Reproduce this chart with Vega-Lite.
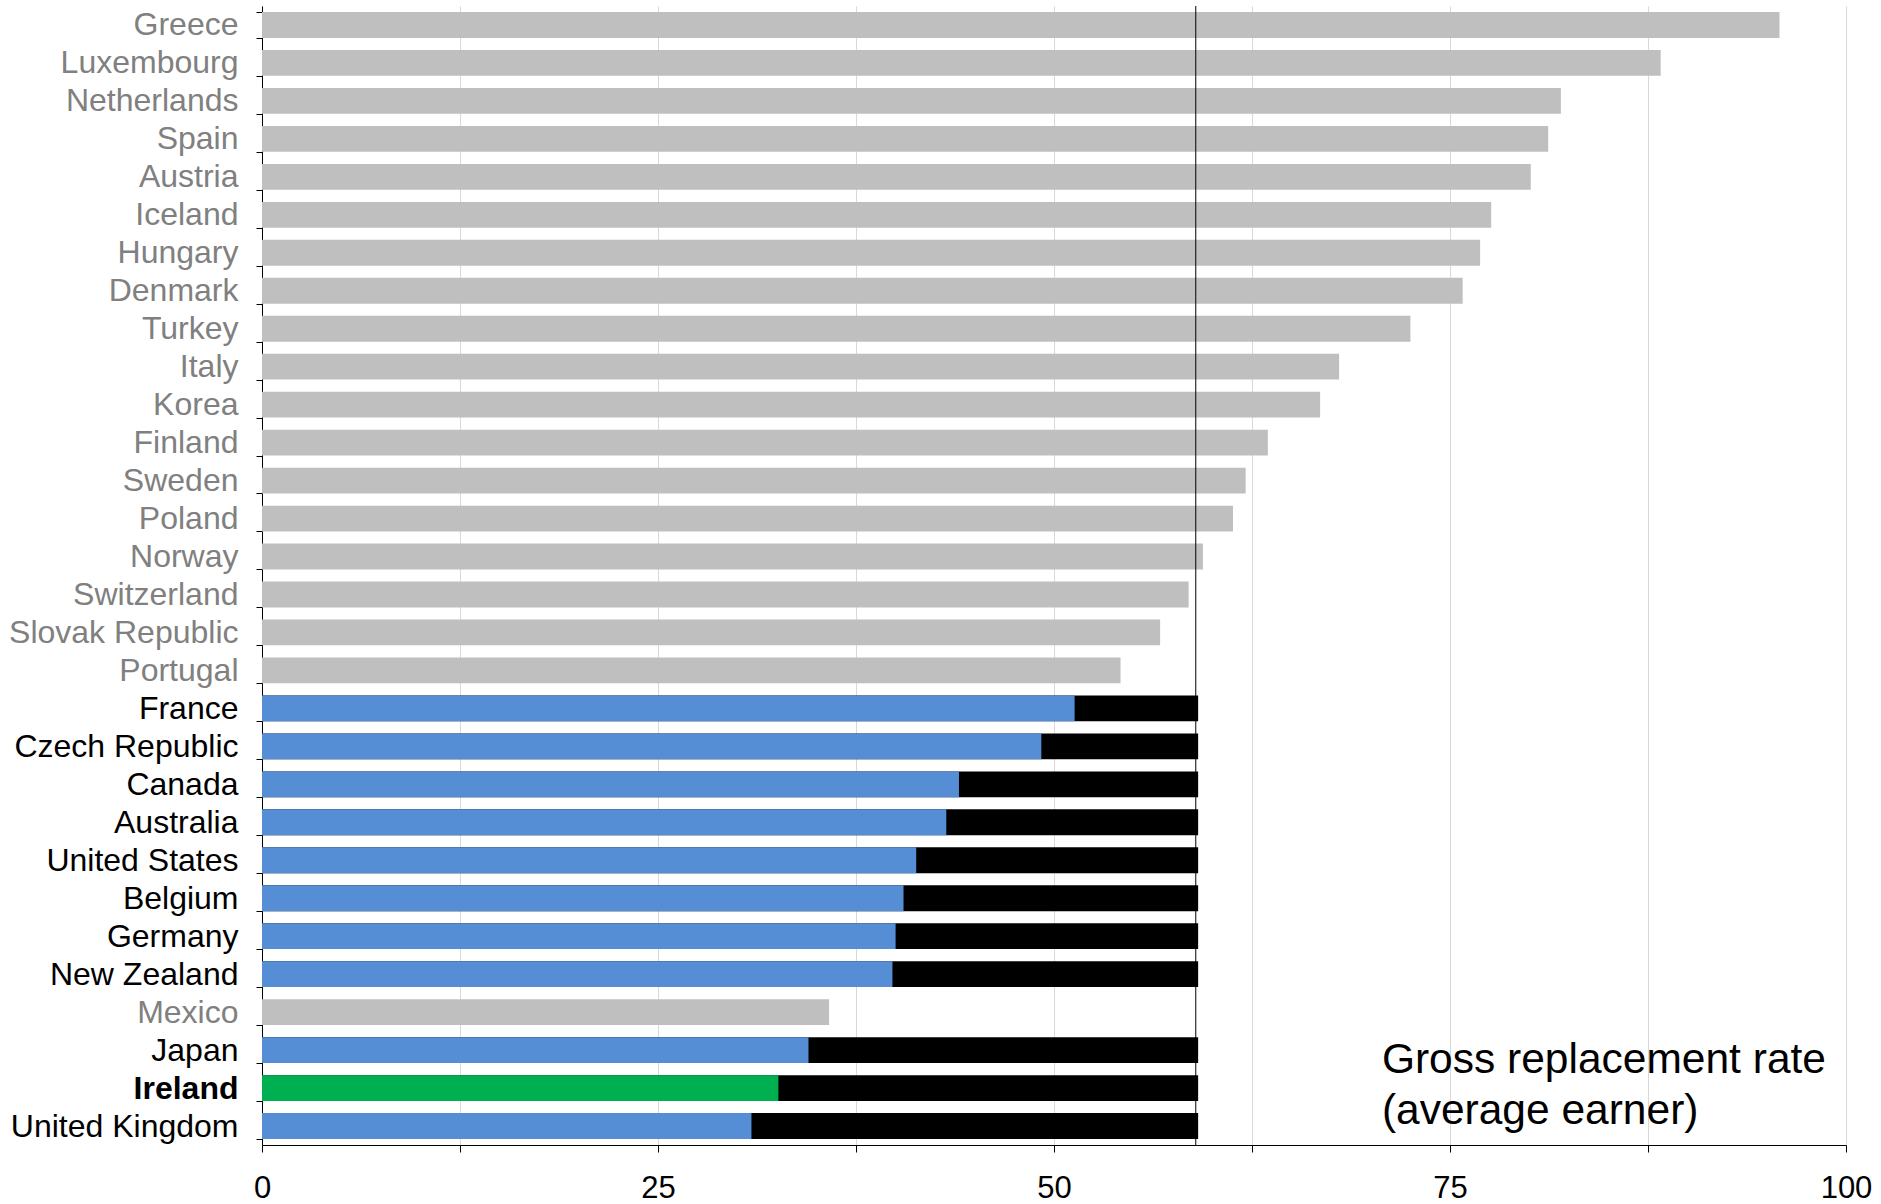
{
  "$schema": "https://vega.github.io/schema/vega-lite/v6.json",
  "autosize": "none",
  "width": 1584,
  "height": 1139,
  "padding": {"left": 262, "top": 6, "right": 35, "bottom": 59},
  "background": "white",
  "config": {"view": {"stroke": null}, "font": "Liberation Sans"},
  "data": {
    "values": [
      {"country": "Greece", "value": 95.8, "group": "grey"},
      {"country": "Luxembourg", "value": 88.3, "group": "grey"},
      {"country": "Netherlands", "value": 82.0, "group": "grey"},
      {"country": "Spain", "value": 81.2, "group": "grey"},
      {"country": "Austria", "value": 80.1, "group": "grey"},
      {"country": "Iceland", "value": 77.6, "group": "grey"},
      {"country": "Hungary", "value": 76.9, "group": "grey"},
      {"country": "Denmark", "value": 75.8, "group": "grey"},
      {"country": "Turkey", "value": 72.5, "group": "grey"},
      {"country": "Italy", "value": 68.0, "group": "grey"},
      {"country": "Korea", "value": 66.8, "group": "grey"},
      {"country": "Finland", "value": 63.5, "group": "grey"},
      {"country": "Sweden", "value": 62.1, "group": "grey"},
      {"country": "Poland", "value": 61.3, "group": "grey"},
      {"country": "Norway", "value": 59.4, "group": "grey"},
      {"country": "Switzerland", "value": 58.5, "group": "grey"},
      {"country": "Slovak Republic", "value": 56.7, "group": "grey"},
      {"country": "Portugal", "value": 54.2, "group": "grey"},
      {"country": "France", "value": 51.3, "total": 59.1, "group": "blue"},
      {"country": "Czech Republic", "value": 49.2, "total": 59.1, "group": "blue"},
      {"country": "Canada", "value": 44.0, "total": 59.1, "group": "blue"},
      {"country": "Australia", "value": 43.2, "total": 59.1, "group": "blue"},
      {"country": "United States", "value": 41.3, "total": 59.1, "group": "blue"},
      {"country": "Belgium", "value": 40.5, "total": 59.1, "group": "blue"},
      {"country": "Germany", "value": 40.0, "total": 59.1, "group": "blue"},
      {"country": "New Zealand", "value": 39.8, "total": 59.1, "group": "blue"},
      {"country": "Mexico", "value": 35.8, "group": "grey"},
      {"country": "Japan", "value": 34.5, "total": 59.1, "group": "blue"},
      {"country": "Ireland", "value": 32.6, "total": 59.1, "group": "green"},
      {"country": "United Kingdom", "value": 30.9, "total": 59.1, "group": "blue"}
    ]
  },
  "encoding": {
    "y": {
      "field": "country",
      "type": "nominal",
      "sort": null,
      "scale": {
        "domain": ["Greece", "Luxembourg", "Netherlands", "Spain", "Austria", "Iceland", "Hungary", "Denmark", "Turkey", "Italy", "Korea", "Finland", "Sweden", "Poland", "Norway", "Switzerland", "Slovak Republic", "Portugal", "France", "Czech Republic", "Canada", "Australia", "United States", "Belgium", "Germany", "New Zealand", "Mexico", "Japan", "Ireland", "United Kingdom"],
        "paddingInner": 0.32,
        "paddingOuter": 0.16
      },
      "axis": {
        "title": null,
        "labelFontSize": 32,
        "labelFont": "Liberation Sans",
        "labelPadding": 18,
        "labelLimit": 0,
        "labelColor": {
          "condition": {
            "test": "indexof(['Greece','Luxembourg','Netherlands','Spain','Austria','Iceland','Hungary','Denmark','Turkey','Italy','Korea','Finland','Sweden','Poland','Norway','Switzerland','Slovak Republic','Portugal','Mexico'], datum.value) >= 0",
            "value": "#808080"
          },
          "value": "#000000"
        },
        "labelFontWeight": {
          "condition": {"test": "datum.value === 'Ireland'", "value": "bold"},
          "value": "normal"
        },
        "tickBand": "extent",
        "tickSize": 6,
        "tickColor": "#000000",
        "domainColor": "#000000",
        "grid": false
      }
    }
  },
  "layer": [
    {
      "transform": [{"filter": "isValid(datum.total)"}],
      "mark": {"type": "bar", "color": "#000000"},
      "encoding": {
        "x": {
          "field": "total",
          "type": "quantitative",
          "scale": {"domain": [0, 100], "nice": false},
          "axis": {
            "title": null,
            "values": [0, 12.5, 25, 37.5, 50, 62.5, 75, 87.5, 100],
            "labelExpr": "datum.value % 25 === 0 ? datum.label : ''",
            "labelFlush": false,
            "labelFontSize": 31,
            "labelFont": "Liberation Sans",
            "labelColor": "#000000",
            "labelPadding": 21,
            "tickSize": 7,
            "tickColor": "#000000",
            "domainColor": "#000000",
            "grid": true,
            "gridColor": "#d9d9d9",
            "gridWidth": 1
          }
        }
      }
    },
    {
      "mark": {"type": "bar"},
      "encoding": {
        "x": {"field": "value", "type": "quantitative"},
        "color": {
          "field": "group",
          "type": "nominal",
          "scale": {"domain": ["grey", "blue", "green"], "range": ["#bfbfbf", "#558ed5", "#00b050"]},
          "legend": null
        }
      }
    },
    {
      "data": {"values": [{"avg": 58.95}]},
      "mark": {"type": "rule", "color": "#000000", "strokeWidth": 1},
      "encoding": {"x": {"field": "avg", "type": "quantitative"}, "y": null}
    },
    {
      "data": {"values": [{"label": ["Gross replacement rate", "(average earner)"], "xpos": 70.7, "row": "Ireland"}]},
      "mark": {
        "type": "text",
        "align": "left",
        "baseline": "middle",
        "fontSize": 42.5,
        "lineHeight": 51,
        "font": "Liberation Sans",
        "color": "#000000",
        "dy": -28
      },
      "encoding": {
        "x": {"field": "xpos", "type": "quantitative"},
        "y": {"field": "row", "type": "nominal"},
        "text": {"field": "label"}
      }
    }
  ]
}
